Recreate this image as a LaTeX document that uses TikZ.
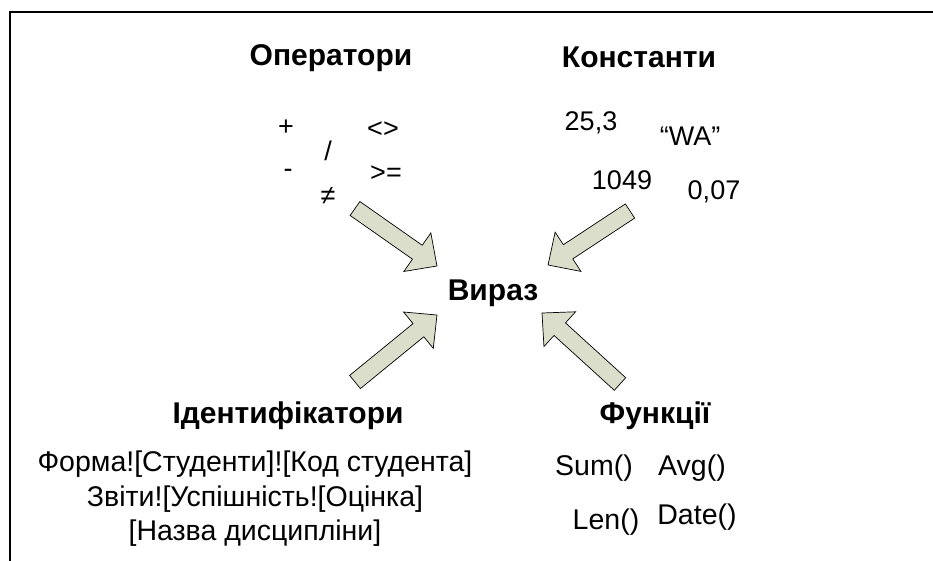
\documentclass[tikz,border=0pt]{standalone}
\usepackage{fontspec}
\setmainfont{Liberation Sans}
\usetikzlibrary{calc}
\definecolor{arrfill}{RGB}{218,222,202}
\tikzset{head/.style={font=\fontsize{30}{36}\selectfont\bfseries,inner sep=0pt},
 sym/.style={font=\fontsize{27}{32}\selectfont,inner sep=0pt},
 item/.style={font=\fontsize{28.5}{34.5}\selectfont,inner sep=0pt},
 fatarr/.style={draw=black,fill=arrfill,line width=0.7pt,line join=miter}}
\newcommand\fatarrow[2]{\path let \p1=($(#2)-(#1)$),\n1={atan2(\y1,\x1)},\n2={veclen(\x1,\y1)} in \pgfextra{\xdef\fang{\n1}\xdef\flen{\n2}};
 \draw[fatarr,shift={(#1)},rotate=\fang] (0pt,-8.5pt)--({\flen*1pt-24pt},-8.5pt)--({\flen*1pt-24pt},-23.5pt)--({\flen*1pt},0pt)--({\flen*1pt-24pt},23.5pt)--({\flen*1pt-24pt},8.5pt)--(0pt,8.5pt)--cycle;}
\begin{document}
\begin{tikzpicture}[x=1pt,y=-1pt]
\useasboundingbox (0,0) rectangle (933,561);
\draw[line width=2pt] (9.5,561)--(9.5,12.5)--(933,12.5);
\node[head,anchor=base] (ops) at (331,66) {Оператори};\node[head,anchor=base] (consts) at (639,68) {Константи};
\node[head,anchor=base] (expr) at (493,300) {Вираз};
\node[head,anchor=base] (ids) at (288,423) {Ідентифікатори};\node[head,anchor=base] (funcs) at (655,423) {Функції};
\node[sym] (plus) at (286,128) {+};\node[sym] (neq) at (383,130) {<>};\node[sym] (div) at (328,151) {/};
\node[sym] (minus) at (288,173) {-};\node[sym] (geq) at (386,174) {>=};\node[sym] (ne) at (328,196) {≠};
\node[sym,anchor=base] (c1) at (591,131) {25,3};\node[sym,anchor=base] (c2) at (690,146) {“WA”};
\node[sym,anchor=base] (c3) at (622,190) {1049};\node[sym,anchor=base] (c4) at (714,200) {0,07};
\node[item,align=center] (idlist) at (255,499) {Форма![Студенти]![Код студента]\\Звіти![Успішність![Оцінка]\\{}[Назва дисципліни]};
\node[item] (sum) at (594,468) {Sum()};\node[item] (avg) at (692,468) {Avg()};
\node[item] (len) at (606,522) {Len()};\node[item] (date) at (697,517) {Date()};
\coordinate (opsT) at (355,208.5);\coordinate (opsH) at (437,266);\coordinate (constT) at (630,211);\coordinate (constH) at (548,265);
\coordinate (idsT) at (355,382);\coordinate (idsH) at (437,315);\coordinate (funcT) at (620,384);\coordinate (funcH) at (542,313);
\fatarrow{opsT}{opsH}\fatarrow{constT}{constH}\fatarrow{idsT}{idsH}\fatarrow{funcT}{funcH}
\end{tikzpicture}
\end{document}
